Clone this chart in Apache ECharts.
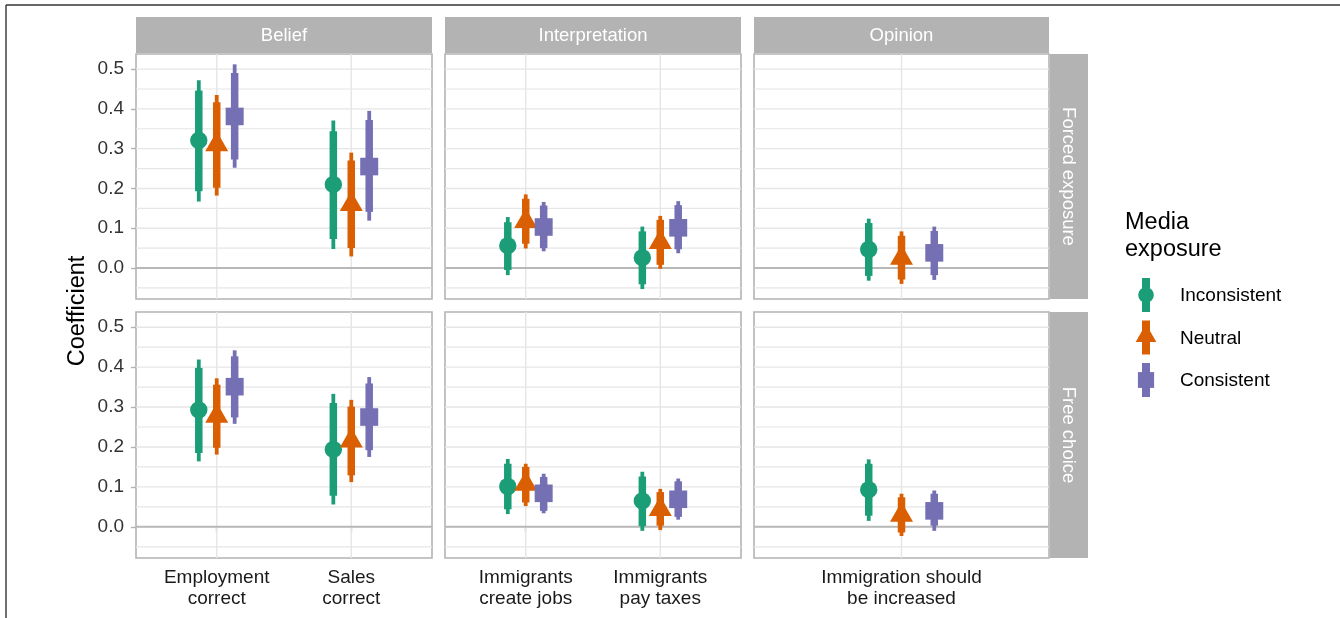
<!DOCTYPE html>
<html><head><meta charset="utf-8">
<script src="https://cdn.jsdelivr.net/npm/echarts@6/dist/echarts.min.js"></script>
<style>html,body{margin:0;padding:0;background:#fff}#c{width:1340px;height:618px}</style>
</head><body><div id="c"></div>
<script>
const groups = ['Inconsistent', 'Neutral', 'Consistent'];
const groupColors = ['#1b9e77', '#d95f02', '#7570b3'];
const topics = ['Belief', 'Interpretation', 'Opinion'];
const modes = ['Forced exposure', 'Free choice'];
const outcomes = ['Employment\ncorrect', 'Sales\ncorrect', 'Immigrants\ncreate jobs', 'Immigrants\npay taxes', 'Immigration should\nbe increased'];
const outcomeTopic = [0, 0, 1, 1, 2];
const outcomeSlot = [1, 2, 1, 2, 1];
const yTicks = [0, 0.1, 0.2, 0.3, 0.4, 0.5];
const yMinor = [-0.05, 0.05, 0.15, 0.25, 0.35, 0.45];

// each row: [estimate, low95, low90, high90, high95], outcomes in the order above
const forcedInconsistent = [
  [0.321, 0.167, 0.193, 0.446, 0.472],
  [0.210, 0.048, 0.073, 0.344, 0.371],
  [0.056, -0.018, -0.005, 0.115, 0.128],
  [0.026, -0.053, -0.041, 0.092, 0.104],
  [0.047, -0.032, -0.020, 0.113, 0.124]
];
const forcedNeutral = [
  [0.306, 0.182, 0.202, 0.417, 0.435],
  [0.156, 0.029, 0.050, 0.270, 0.290],
  [0.113, 0.049, 0.061, 0.174, 0.185],
  [0.060, -0.002, 0.008, 0.121, 0.131],
  [0.021, -0.040, -0.029, 0.081, 0.092]
];
const forcedConsistent = [
  [0.381, 0.252, 0.273, 0.490, 0.512],
  [0.255, 0.119, 0.141, 0.372, 0.395],
  [0.103, 0.042, 0.050, 0.157, 0.166],
  [0.101, 0.037, 0.047, 0.158, 0.168],
  [0.038, -0.030, -0.018, 0.093, 0.104]
];
const freeInconsistent = [
  [0.293, 0.164, 0.185, 0.398, 0.419],
  [0.194, 0.056, 0.078, 0.310, 0.333],
  [0.101, 0.032, 0.044, 0.158, 0.170],
  [0.065, -0.010, 0.002, 0.126, 0.138],
  [0.093, 0.015, 0.028, 0.158, 0.169]
];
const freeNeutral = [
  [0.273, 0.181, 0.198, 0.356, 0.372],
  [0.211, 0.112, 0.129, 0.301, 0.318],
  [0.103, 0.052, 0.061, 0.150, 0.158],
  [0.040, -0.008, 0.003, 0.087, 0.095],
  [0.025, -0.023, -0.014, 0.074, 0.083]
];
const freeConsistent = [
  [0.351, 0.258, 0.274, 0.427, 0.442],
  [0.275, 0.175, 0.192, 0.359, 0.375],
  [0.084, 0.034, 0.040, 0.125, 0.133],
  [0.069, 0.018, 0.025, 0.114, 0.121],
  [0.040, -0.010, 0.003, 0.083, 0.091]
];
const dataByMode = [
  [forcedInconsistent, forcedNeutral, forcedConsistent],
  [freeInconsistent, freeNeutral, freeConsistent]
];

// layout
const FONT = '"Liberation Sans", Arial, sans-serif';
const colLeft = [136, 445, 754];
const colWidth = [296, 296, 295];
const rowTop = [54, 312];
const rowHeight = [245, 246];
const yMin = -0.078, yMax = 0.538;
const dodge = [-0.4 / 3, 0, 0.4 / 3];

const grids = [], xAxes = [], yAxes = [], series = [];

function gridRender(params, api) {
  const cs = params.coordSys;
  const kind = api.value(0), v = api.value(1);
  if (kind === 2) {
    const x = api.coord([v, 0])[0];
    return { type: 'line', shape: { x1: x, y1: cs.y, x2: x, y2: cs.y + cs.height }, style: { stroke: '#e6e6e6', lineWidth: 1.4 } };
  }
  const y = api.coord([1, v])[1];
  const st = kind === 3 ? { stroke: '#b8b8b8', lineWidth: 2 } : { stroke: '#e6e6e6', lineWidth: kind === 0 ? 1.4 : 1.2 };
  return { type: 'line', shape: { x1: cs.x, y1: y, x2: cs.x + cs.width, y2: y }, style: st };
}

function markerShape(g, cx, cy, color, scale) {
  const s = scale || 1;
  if (g === 0) return { type: 'circle', shape: { cx: cx, cy: cy, r: 8.7 * s }, style: { fill: color } };
  if (g === 1) return { type: 'polygon', shape: { points: [[cx, cy - 15 * s], [cx + 11.5 * s, cy + 5 * s], [cx - 11.5 * s, cy + 5 * s]] }, style: { fill: color } };
  return { type: 'rect', shape: { x: cx - 9 * s, y: cy - 8.8 * s, width: 18 * s, height: 17.6 * s }, style: { fill: color } };
}

function pointRender(g) {
  return function (params, api) {
    const x = api.value(0);
    const c = api.coord([x, api.value(1)]);
    const lo95 = api.coord([x, api.value(2)])[1];
    const lo90 = api.coord([x, api.value(3)])[1];
    const hi90 = api.coord([x, api.value(4)])[1];
    const hi95 = api.coord([x, api.value(5)])[1];
    const color = groupColors[g];
    return {
      type: 'group',
      children: [
        { type: 'line', shape: { x1: c[0], y1: lo95, x2: c[0], y2: hi95 }, style: { stroke: color, lineWidth: 3.8 } },
        { type: 'line', shape: { x1: c[0], y1: lo90, x2: c[0], y2: hi90 }, style: { stroke: color, lineWidth: 7.5 } },
        markerShape(g, c[0], c[1], color)
      ]
    };
  };
}

for (let r = 0; r < 2; r++) {
  for (let t = 0; t < 3; t++) {
    const gi = r * 3 + t;
    const idx = outcomes.map((o, i) => i).filter(i => outcomeTopic[i] === t);
    const slots = idx.map(i => outcomeSlot[i]);
    const names = idx.map(i => outcomes[i]);
    grids.push({ left: colLeft[t], top: rowTop[r], width: colWidth[t], height: rowHeight[r],
      show: true, borderColor: '#b3b3b3', borderWidth: 1.6, backgroundColor: '#fff', containLabel: false });
    xAxes.push({
      type: 'value', gridIndex: gi, min: 0.4, max: slots.length + 0.6,
      axisLine: { show: false }, splitLine: { show: false },
      axisTick: { show: r === 1, customValues: slots, length: 5, lineStyle: { color: '#b3b3b3', width: 1.4 } },
      axisLabel: { show: r === 1, customValues: slots, margin: 9, color: '#1a1a1a', fontSize: 19, lineHeight: 21, fontFamily: FONT,
        formatter: v => names[slots.indexOf(Math.round(v))] || '' }
    });
    yAxes.push({
      type: 'value', gridIndex: gi, min: yMin, max: yMax,
      axisLine: { show: false }, splitLine: { show: false },
      axisTick: { show: t === 0, customValues: yTicks, length: 5, lineStyle: { color: '#b3b3b3', width: 1.4 } },
      axisLabel: { show: t === 0, customValues: yTicks, margin: 12, color: '#333', fontSize: 19, fontFamily: FONT,
        formatter: v => v.toFixed(1) }
    });
    const gridData = yTicks.map(v => [0, v]).concat(yMinor.map(v => [1, v])).concat(slots.map(s => [2, s])).concat([[3, 0]]);
    series.push({ type: 'custom', xAxisIndex: gi, yAxisIndex: gi, z: 1, silent: true, renderItem: gridRender,
      encode: { x: 0, y: 1 }, data: gridData });
    for (let g = 0; g < 3; g++) {
      const vals = dataByMode[r][g];
      const d = idx.map(i => [outcomeSlot[i] + dodge[g]].concat(vals[i]));
      series.push({ type: 'custom', name: groups[g], xAxisIndex: gi, yAxisIndex: gi, z: 3, clip: false,
        renderItem: pointRender(g), encode: { x: 0, y: [1, 2, 5] }, data: d });
    }
  }
}

const graphics = [];
// frame
graphics.push({ type: 'line', shape: { x1: 6, y1: 5, x2: 1340, y2: 5 }, style: { stroke: '#333', lineWidth: 1.4 } });
graphics.push({ type: 'line', shape: { x1: 6, y1: 5, x2: 6, y2: 618 }, style: { stroke: '#333', lineWidth: 1.4 } });
// top strips
for (let t = 0; t < 3; t++) {
  graphics.push({ type: 'rect', shape: { x: colLeft[t], y: 17, width: colWidth[t], height: 36 }, style: { fill: '#b3b3b3' } });
  graphics.push({ type: 'text', x: colLeft[t] + colWidth[t] / 2, y: 36,
    style: { text: topics[t], fill: '#fff', fontSize: 18.5, fontFamily: FONT, align: 'center', verticalAlign: 'middle' } });
}
// right strips
for (let r = 0; r < 2; r++) {
  graphics.push({ type: 'rect', shape: { x: 1050, y: rowTop[r], width: 38, height: rowHeight[r] }, style: { fill: '#b3b3b3' } });
  graphics.push({ type: 'text', x: 1068, y: rowTop[r] + rowHeight[r] / 2, rotation: -Math.PI / 2,
    style: { text: modes[r], fill: '#fff', fontSize: 18.5, fontFamily: FONT, align: 'center', verticalAlign: 'middle' } });
}
// y axis title
graphics.push({ type: 'text', x: 78, y: 311, rotation: Math.PI / 2,
  style: { text: 'Coefficient', fill: '#000', fontSize: 23.5, fontFamily: FONT, align: 'center', verticalAlign: 'middle' } });
// legend
graphics.push({ type: 'text', x: 1125, y: 209,
  style: { text: 'Media\nexposure', fill: '#000', fontSize: 23.5, lineHeight: 27, fontFamily: FONT, align: 'left', verticalAlign: 'top' } });
const legY = [295, 337.5, 380];
for (let g = 0; g < 3; g++) {
  graphics.push({ type: 'rect', shape: { x: 1142, y: legY[g] - 17, width: 8, height: 34 }, style: { fill: groupColors[g] } });
  graphics.push(markerShape(g, 1146, legY[g], groupColors[g], 0.9));
  graphics.push({ type: 'text', x: 1180, y: legY[g] + 1,
    style: { text: groups[g], fill: '#000', fontSize: 19, fontFamily: FONT, align: 'left', verticalAlign: 'middle' } });
}

const chart = echarts.init(document.getElementById('c'));
chart.setOption({
  animation: false,
  backgroundColor: '#fff',
  grid: grids, xAxis: xAxes, yAxis: yAxes, series: series,
  graphic: { elements: graphics }
});
</script></body></html>
